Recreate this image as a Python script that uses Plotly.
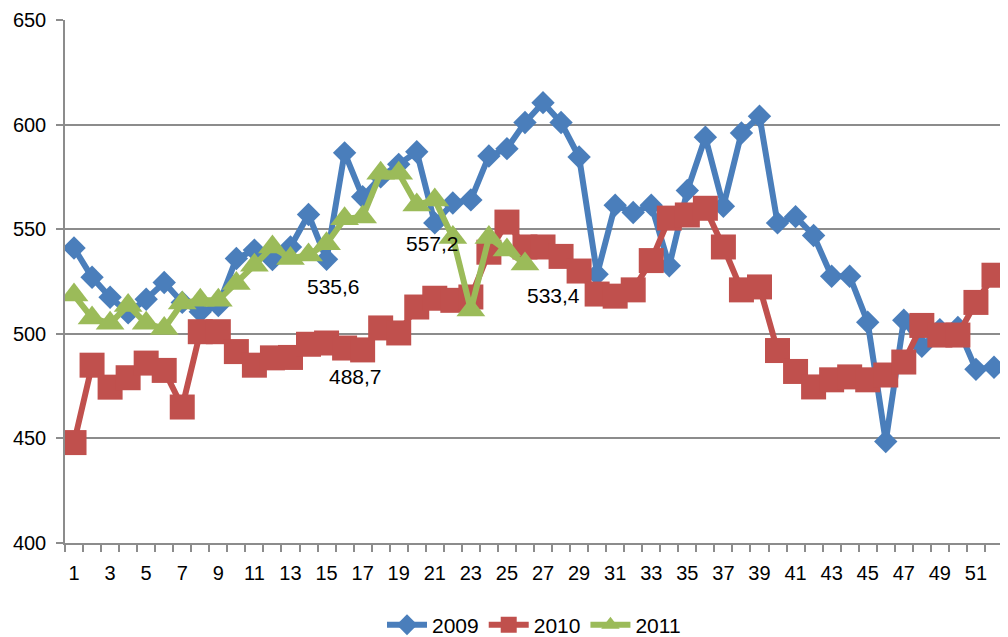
import plotly.graph_objects as go

weeks = list(range(1, 53))

sales_2009 = [541, 527, 517.5, 510, 516.5, 524.5, 515, 510.5, 513.5, 536, 540, 535.5,
              541.5, 557, 535.6, 586.5, 565.5, 575, 581, 587, 553, 562.5, 564, 585,
              588.5, 601, 610.5, 601, 584.5, 528.5, 561.5, 558, 561.5, 532.5, 568.5, 594,
              561, 596, 604, 553, 556, 547, 527.5, 527.5, 505.5, 448.5, 506.5, 494,
              502, 503, 483, 484]
sales_2010 = [448, 485, 474.5, 479, 486, 482.5, 465, 501, 501, 491.5, 485, 488.5,
              488.7, 495, 495.6, 493.2, 492.3, 502.8, 500.4, 512.8, 517, 516, 517.6, 539,
              553.4, 541.5, 541.5, 537, 530, 519, 518, 521, 535, 555.3, 556.8, 560,
              541.5, 521, 522.4, 492, 482, 474.6, 478, 479.4, 478, 480.3, 486.5, 504,
              499.4, 499.4, 515, 528]
sales_2011 = [518.5, 507.6, 505, 513.5, 505, 502.5, 514.7, 516, 516, 524, 532.8, 541.5,
              536, 537.7, 543, 555, 555.8, 576.8, 576.8, 561.6, 564, 546, 511.4, 546,
              540, 533.4]

# free-floating value labels (week, value position, text)
label_x = [15.4, 16.6, 20.9, 27.6]
label_y = [522.4, 479.4, 543.1, 518.5]
label_text = ["535,6", "488,7", "557,2", "533,4"]

FONT = "Liberation Sans, Arial, sans-serif"
GRID = "#8c8c8c"

series = [
    ("2009", sales_2009, "#4a7ebb", "diamond", 18),
    ("2010", sales_2010, "#c0504d", "square", 25),
    ("2011", sales_2011, "#9bbb59", "triangle-up", 25),
]

fig = go.Figure()
for name, vals, color, symbol, size in series:
    fig.add_trace(go.Scatter(
        x=weeks[:len(vals)], y=vals, name=name, mode="lines+markers",
        line=dict(color=color, width=6),
        marker=dict(color=color, symbol=symbol, size=size, line=dict(width=0)),
    ))

for x, y, t in zip(label_x, label_y, label_text):
    fig.add_annotation(x=x, y=y, text=t, showarrow=False,
                       font=dict(size=21, color="black", family=FONT))

# page body keeps its default 8px margin, so the figure is sized 8px smaller
fig.update_layout(
    width=1000, height=629,
    margin=dict(l=57, r=5, t=12, b=94, autoexpand=False),
    paper_bgcolor="white", plot_bgcolor="white",
    font=dict(family=FONT, size=19, color="black"),
    showlegend=True,
    legend=dict(orientation="h", x=0.5, xanchor="center", y=-0.157, yanchor="middle",
                font=dict(size=21), itemwidth=40, tracegroupgap=0),
)
fig.update_xaxes(
    range=[0.5, 52.5], tickmode="array", tickvals=list(range(1, 52, 2)),
    ticks="", showgrid=False, zeroline=False, automargin=False,
    showline=True, linecolor=GRID, linewidth=1.5,
    ticklabelstandoff=11, tickfont=dict(size=20),
    minor=dict(ticks="outside", tick0=0.5, dtick=1, ticklen=7, tickcolor=GRID,
               tickwidth=1.5, showgrid=False),
)
fig.update_yaxes(
    range=[400, 650], dtick=50, tick0=400, automargin=False,
    showgrid=True, gridcolor=GRID, gridwidth=1.5, zeroline=False,
    showline=True, linecolor=GRID, linewidth=1.5,
    ticks="outside", ticklen=7, tickcolor=GRID, tickwidth=1.5,
    ticklabelstandoff=6, tickfont=dict(size=20),
)

fig.write_html("out.html")
